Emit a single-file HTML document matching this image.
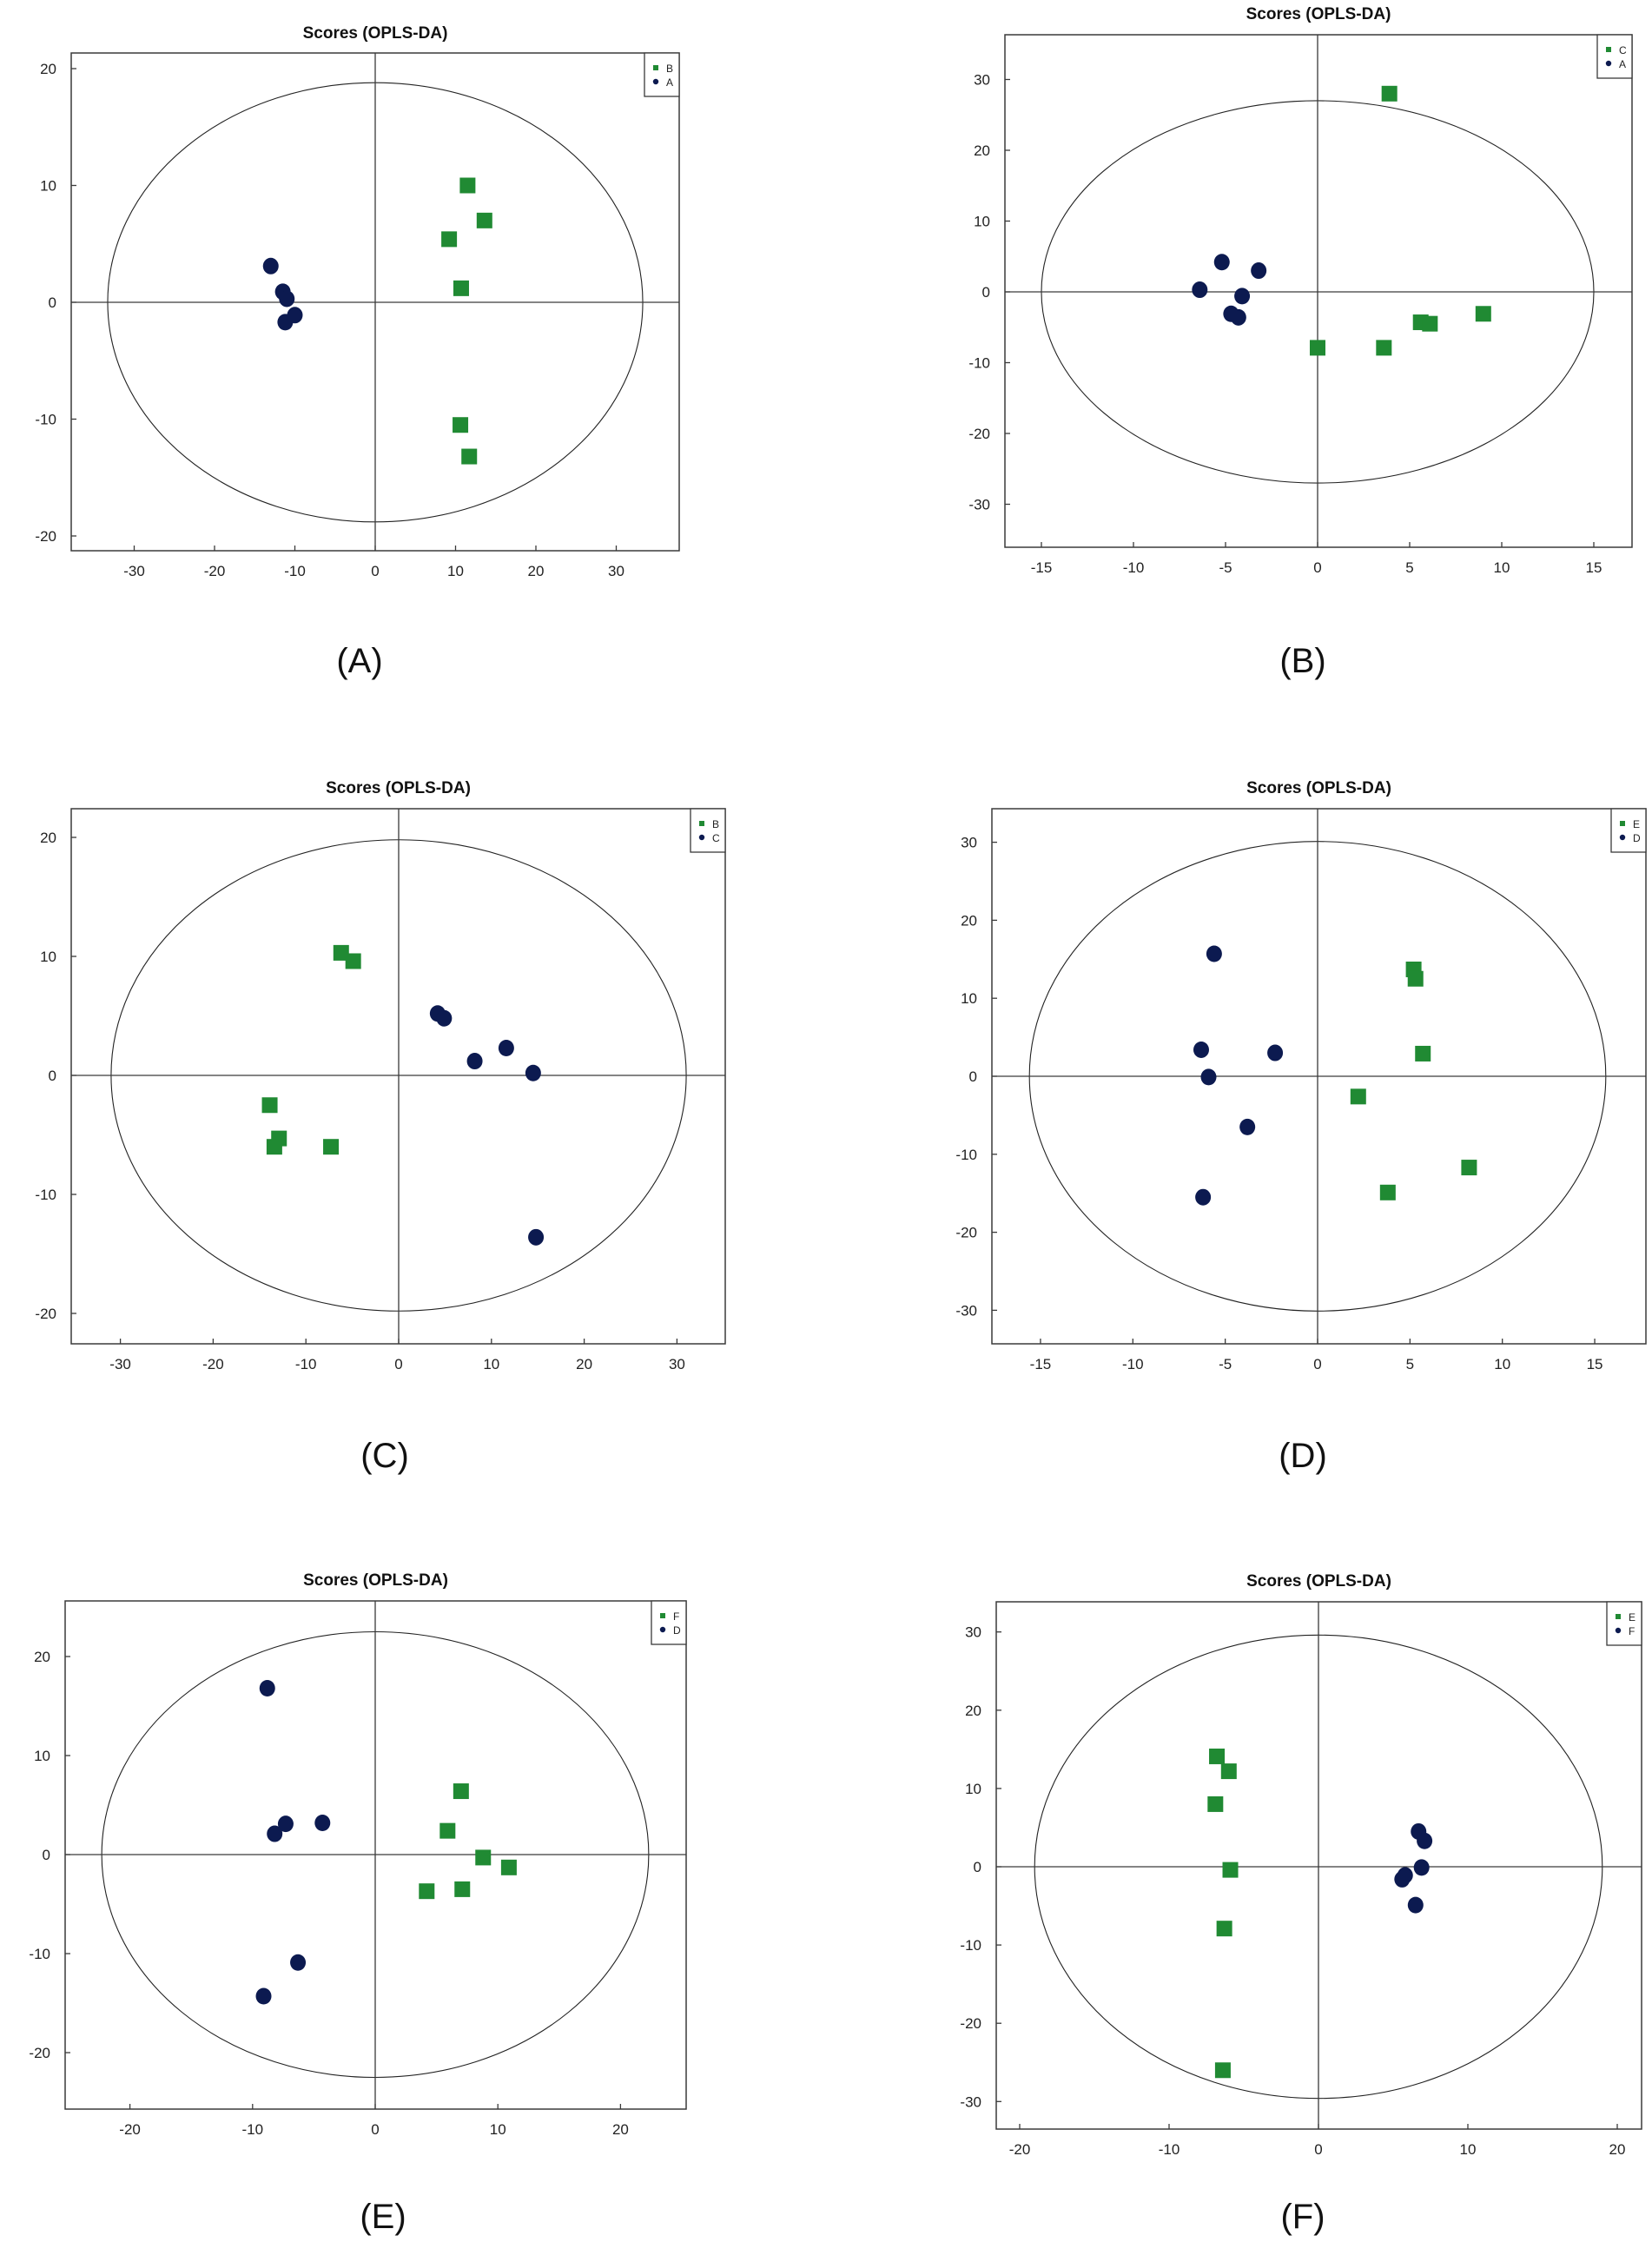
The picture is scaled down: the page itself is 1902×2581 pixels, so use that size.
<!DOCTYPE html>
<html><head><meta charset="utf-8">
<style>
html,body{margin:0;padding:0;background:#fff;}
svg{display:block;font-family:"Liberation Sans",Arial,sans-serif;}
</style></head>
<body>
<svg id="fig" width="1902" height="2581" viewBox="0 0 1902 2581" xmlns="http://www.w3.org/2000/svg"></svg>
<script>
// Panel A data (B squares vs A circles)
const aSqX=[11.5,13.6,9.2,10.7,10.6,11.7];
const aSqY=[10,7,5.4,1.2,-10.5,-13.2];
const aCiX=[-13,-11.5,-11,-10,-11.2];
const aCiY=[3.1,0.9,0.3,-1.1,-1.7];
const aXTicks=[-30,-20,-10,0,10,20,30];
const aYTicks=[20,10,0,-10,-20];
const aLegend=["B","A"];
// Panel B data
const bSqX=[3.9,0,3.6,5.6,6.1,9];
const bSqY=[28,-7.9,-7.9,-4.3,-4.5,-3.1];
const bCiX=[-5.2,-3.2,-6.4,-4.1,-4.7,-4.3];
const bCiY=[4.2,3,0.3,-0.6,-3.1,-3.6];
const bXTicks=[-15,-10,-5,0,5,10,15];
const bYTicks=[30,20,10,0,-10,-20,-30];
const bLegend=["C","A"];
// Panel C data
const cSqX=[-6.2,-4.9,-13.9,-12.9,-13.4,-7.3];
const cSqY=[10.3,9.6,-2.5,-5.3,-6,-6];
const cCiX=[4.2,4.9,8.2,11.6,14.5,14.8];
const cCiY=[5.2,4.8,1.2,2.3,0.2,-13.6];
const cXTicks=[-30,-20,-10,0,10,20,30];
const cYTicks=[20,10,0,-10,-20];
const cLegend=["B","C"];
// Panel D data
const dSqX=[5.2,5.3,5.7,2.2,8.2,3.8];
const dSqY=[13.7,12.5,2.9,-2.6,-11.7,-14.9];
const dCiX=[-5.6,-6.3,-2.3,-5.9,-3.8,-6.2];
const dCiY=[15.7,3.4,3,-0.1,-6.5,-15.5];
const dXTicks=[-15,-10,-5,0,5,10,15];
const dYTicks=[30,20,10,0,-10,-20,-30];
const dLegend=["E","D"];
// Panel E data
const eSqX=[7,5.9,8.8,10.9,4.2,7.1];
const eSqY=[6.4,2.4,-0.3,-1.3,-3.7,-3.5];
const eCiX=[-8.8,-7.3,-8.2,-4.3,-6.3,-9.1];
const eCiY=[16.8,3.1,2.1,3.2,-10.9,-14.3];
const eXTicks=[-20,-10,0,10,20];
const eYTicks=[20,10,0,-10,-20];
const eLegend=["F","D"];
// Panel F data
const fSqX=[-6.8,-6,-6.9,-5.9,-6.3,-6.4];
const fSqY=[14.1,12.2,8,-0.4,-7.9,-26];
const fCiX=[6.7,7.1,6.9,5.8,5.6,6.5];
const fCiY=[4.5,3.3,-0.1,-1.1,-1.6,-4.9];
const fXTicks=[-20,-10,0,10,20];
const fYTicks=[30,20,10,0,-10,-20,-30];
const fLegend=["E","F"];

const NS="http://www.w3.org/2000/svg";
const svg=document.getElementById('fig');
function mk(tag,attrs,parent){const e=document.createElementNS(NS,tag);for(const k in attrs)e.setAttribute(k,attrs[k]);(parent||svg).appendChild(e);return e;}

const panels=[
 {id:'a',label:'(A)',L:82,R:782,T:61,B:634,x0:432,ux:9.25,y0:348,uy:13.45,rx:33.3,ry:18.8,titleY:37,labX:414,labY:760,sqX:aSqX,sqY:aSqY,ciX:aCiX,ciY:aCiY,xt:aXTicks,yt:aYTicks,leg:aLegend},
 {id:'b',label:'(B)',L:1157,R:1879,T:40,B:630,x0:1517,ux:21.2,y0:336,uy:8.15,rx:15,ry:27,titleY:15,labX:1500,labY:760,sqX:bSqX,sqY:bSqY,ciX:bCiX,ciY:bCiY,xt:bXTicks,yt:bYTicks,leg:bLegend},
 {id:'c',label:'(C)',L:82,R:835,T:931,B:1547,x0:459,ux:10.68,y0:1238,uy:13.7,rx:31,ry:19.8,titleY:906,labX:443,labY:1675,sqX:cSqX,sqY:cSqY,ciX:cCiX,ciY:cCiY,xt:cXTicks,yt:cYTicks,leg:cLegend},
 {id:'d',label:'(D)',L:1142,R:1895,T:931,B:1547,x0:1517,ux:21.27,y0:1239,uy:8.98,rx:15.6,ry:30.1,titleY:906,labX:1500,labY:1675,sqX:dSqX,sqY:dSqY,ciX:dCiX,ciY:dCiY,xt:dXTicks,yt:dYTicks,leg:dLegend},
 {id:'e',label:'(E)',L:75,R:790,T:1843,B:2428,x0:432,ux:14.12,y0:2135,uy:11.4,rx:22.3,ry:22.5,titleY:1818,labX:441,labY:2551,sqX:eSqX,sqY:eSqY,ciX:eCiX,ciY:eCiY,xt:eXTicks,yt:eYTicks,leg:eLegend},
 {id:'f',label:'(F)',L:1147,R:1890,T:1844,B:2451,x0:1518,ux:17.2,y0:2149,uy:9.01,rx:19,ry:29.6,titleY:1819,labX:1500,labY:2551,sqX:fSqX,sqY:fSqY,ciX:fCiX,ciY:fCiY,xt:fXTicks,yt:fYTicks,leg:fLegend}
];

const GREEN="#208a33", NAVY="#0c1a50", AX="#3a3a3a";

panels.forEach(p=>{
  const sx=v=>p.x0+v*p.ux, sy=v=>p.y0-v*p.uy;
  const g=mk('g',{});
  
  
  const t=mk('text',{x:(p.L+p.R)/2,y:p.titleY+7,'text-anchor':'middle','font-size':19,'font-weight':'bold',fill:'#111'},g);
  t.textContent='Scores (OPLS-DA)';
  
  
  const fr=mk('rect',{x:p.L,y:p.T,width:p.R-p.L,height:p.B-p.T,fill:'none',stroke:AX,'stroke-width':1.5},g);
  
  
  const el=mk('ellipse',{cx:sx(0),cy:sy(0),rx:p.rx*p.ux,ry:p.ry*p.uy,fill:'none',stroke:'#222','stroke-width':1.1},g);
  
  
  const vl=mk('line',{x1:sx(0),x2:sx(0),y1:p.T,y2:p.B,stroke:AX,'stroke-width':1.3},g);
  
  
  const hl=mk('line',{x1:p.L,x2:p.R,y1:sy(0),y2:sy(0),stroke:AX,'stroke-width':1.3},g);
  
  
  p.xt.forEach(v=>{
    const tk=mk('line',{x1:sx(v),x2:sx(v),y1:p.B,y2:p.B-6,stroke:AX,'stroke-width':1.3},g);
    
    
    const tl=mk('text',{x:sx(v),y:p.B+29,'text-anchor':'middle','font-size':17,fill:'#222'},g);
    tl.textContent=String(v);
    
    
  });
  p.yt.forEach(v=>{
    const tk=mk('line',{x1:p.L,x2:p.L+6,y1:sy(v),y2:sy(v),stroke:AX,'stroke-width':1.3},g);
    
    
    const tl=mk('text',{x:p.L-17,y:sy(v)+6,'text-anchor':'end','font-size':17,fill:'#222'},g);
    tl.textContent=String(v);
    
    
  });
  p.ciX.forEach((v,i)=>{
    const c=mk('ellipse',{cx:sx(v),cy:sy(p.ciY[i]),rx:9,ry:9.5,fill:NAVY},g);
    
    
  });
  p.sqX.forEach((v,i)=>{
    const s=mk('rect',{x:sx(v)-9,y:sy(p.sqY[i])-9,width:18,height:18,fill:GREEN},g);
    
    
  });
  // legend
  const lx=p.R-40, ly=p.T;
  const lb=mk('rect',{x:lx,y:ly,width:40,height:50,fill:'#fff',stroke:AX,'stroke-width':1.3},g);
  
  
  const ls=mk('rect',{x:lx+10,y:ly+14,width:6,height:6,fill:GREEN},g);
  
  
  const lc=mk('circle',{cx:lx+13,cy:ly+33,r:3.2,fill:NAVY},g);
  
  
  p.leg.forEach((name,i)=>{
    const tx=mk('text',{x:lx+25,y:ly+22+i*16,'font-size':12,fill:'#222'},g);
    tx.textContent=name;
    
    
  });
  const pl=mk('text',{x:p.labX,y:p.labY+14,'text-anchor':'middle','font-size':40,fill:'#111'},g);
  pl.textContent=p.label;
  
  
});
</script>
</body></html>
